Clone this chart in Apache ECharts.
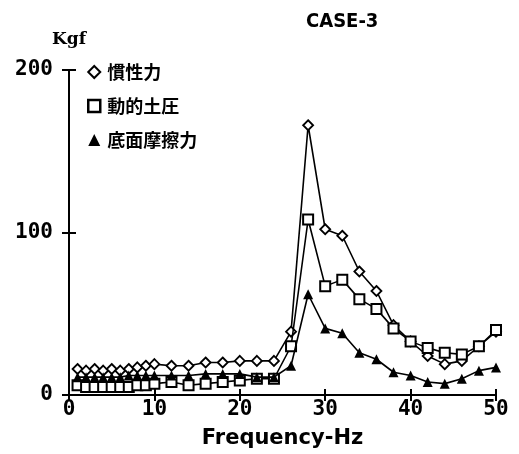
<!DOCTYPE html>
<html>
<head>
<meta charset="utf-8">
<script src="https://cdn.jsdelivr.net/npm/echarts@6/dist/echarts.min.js"></script>
<style>html,body{margin:0;padding:0;background:#fff}#c{width:519px;height:454px}</style>
</head>
<body>
<div id="c"></div>
<script>
const frequency = [1,2,3,4,5,6,7,8,9,10,12,14,16,18,20,22,24,26,28,30,32,34,36,38,40,42,44,46,48,50];
const inertia  = [16,15,16,15,16,15,16,17,18,19,18,18,20,20,21,21,21,39,166,102,98,76,64,43,33,24,19,21,30,39];
const earthPressure = [6,5,5,5,5,5,5,6,6,7,8,6,7,8,9,10,10,30,108,67,71,59,53,41,33,29,26,25,30,40];
const friction = [11,11,11,11,11,11,12,12,12,12,12,12,13,13,13,11,11,18,62,41,38,26,22,14,12,8,7,10,15,17];
const seriesNames = ['慣性力','動的土圧','底面摩擦力'];

const pair = arr => frequency.map((f,i)=>[f,arr[i]]);
const chart = echarts.init(document.getElementById('c'));
const labelFont = {fontFamily:'DejaVu Sans Mono', fontWeight:'bold', fontSize:21, color:'#000'};
const lineS = {color:'#000', width:1.6};
chart.setOption({
  animation:false,
  backgroundColor:'#fff',
  title:{text:'CASE-3', left:301, top:7, textStyle:{fontFamily:'"Liberation Sans Narrow", "DejaVu Sans Condensed", sans-serif', fontWeight:'bold', fontSize:20, color:'#000'}},
  legend:{
    orient:'vertical', left:82, top:58, itemGap:16, itemWidth:12, itemHeight:12,
    textStyle:{fontFamily:'Noto Sans CJK JP', fontWeight:'bold', fontSize:18, color:'#000', padding:[0,0,0,2]},
    data:[
      {name:seriesNames[0], icon:'diamond', itemStyle:{color:'#fff', borderColor:'#000', borderWidth:2}},
      {name:seriesNames[1], icon:'rect', itemStyle:{color:'#fff', borderColor:'#000', borderWidth:2.5}},
      {name:seriesNames[2], icon:'triangle', itemStyle:{color:'#000', borderColor:'#000', borderWidth:0}}
    ]
  },
  grid:{left:69, right:23, top:70, bottom:56, containLabel:false},
  xAxis:[
    {type:'value', min:0, max:50, interval:10,
     name:'Frequency-Hz', nameLocation:'middle', nameGap:33,
     nameTextStyle:{fontFamily:'DejaVu Sans', fontWeight:'bold', fontSize:21, color:'#000'},
     axisLine:{onZero:false, lineStyle:{color:'#000', width:2}},
     axisTick:{show:true, length:6, lineStyle:{color:'#000', width:2}},
     axisLabel:Object.assign({margin:4}, labelFont),
     splitLine:{show:false}},
    {type:'value', min:0, max:50, interval:10, position:'bottom', offset:0,
     axisLine:{show:false, onZero:false}, axisTick:{show:true, inside:true, length:6, lineStyle:{color:'#000', width:2}},
     axisLabel:{show:false}, splitLine:{show:false}}
  ],
  yAxis:[
    {type:'value', min:0, max:200, interval:100,
     name:'Kgf', nameLocation:'end', nameGap:22,
     nameTextStyle:{fontFamily:'DejaVu Serif', fontWeight:'bold', fontSize:17, color:'#000', align:'center'},
     axisLine:{onZero:false, lineStyle:{color:'#000', width:2}},
     axisTick:{show:true, length:7, lineStyle:{color:'#000', width:2}},
     axisLabel:Object.assign({margin:16}, labelFont),
     splitLine:{show:false}},
    {type:'value', min:0, max:200, interval:100, position:'left', offset:0,
     axisLine:{show:false, onZero:false}, axisTick:{show:true, inside:true, length:7, lineStyle:{color:'#000', width:2}},
     axisLabel:{show:false}, splitLine:{show:false}}
  ],
  series:[
    {name:seriesNames[0], type:'line', data:pair(inertia), symbol:'diamond', symbolSize:10,
     lineStyle:lineS, itemStyle:{color:'#fff', borderColor:'#000', borderWidth:1.8}, z:3},
    {name:seriesNames[1], type:'line', data:pair(earthPressure), symbol:'rect', symbolSize:10,
     lineStyle:lineS, itemStyle:{color:'#fff', borderColor:'#000', borderWidth:2}, z:4},
    {name:seriesNames[2], type:'line', data:pair(friction), symbol:'triangle', symbolSize:10,
     lineStyle:lineS, itemStyle:{color:'#000', borderColor:'#000', borderWidth:0}, z:5},
    {name:'_ticks', type:'line', xAxisIndex:1, yAxisIndex:1, data:[], showSymbol:false, silent:true}
  ]
});
</script>
</body>
</html>
